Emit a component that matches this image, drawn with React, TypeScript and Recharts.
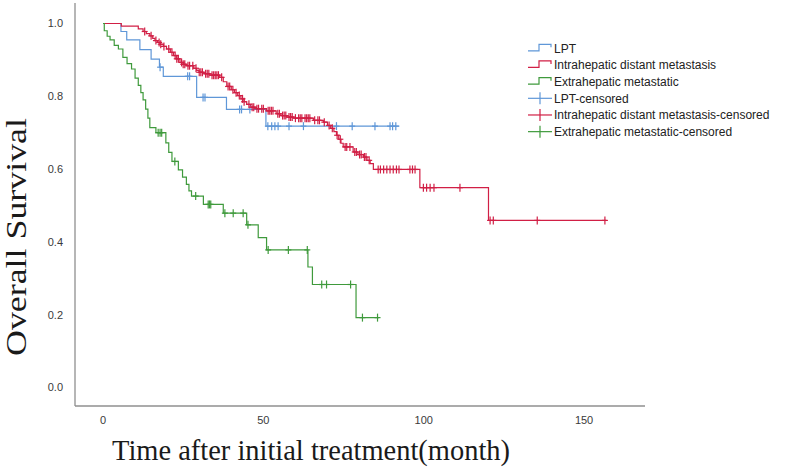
import React from "react";
import { ComposedChart, Line, Scatter, XAxis, YAxis, Legend } from "recharts";

// ---------- data ----------
const seriesNames = ["LPT", "Intrahepatic distant metastasis", "Extrahepatic metastatic"];
const seriesColors = ["#5f97d8", "#d11f45", "#3f9a3c"];

const lptTimes = [0, 5.6, 7.4, 11.5, 15, 17.6, 18.8, 29.2, 38.5, 50.8, 92.4];
const lptSurv = [1, 0.978, 0.955, 0.928, 0.902, 0.88, 0.855, 0.797, 0.764, 0.718, 0.718];
const lptCensored = [17.8, 26.4, 27, 31.2, 31.8, 42.6, 43.2, 45.8, 51.4, 52.6, 53.6, 54.6, 58, 62.5, 72.8, 77.7, 84.8, 89.5, 90.3, 91.3];

const ihTimes = [0, 5.7, 11, 12.5, 13.5, 14.6, 15.5, 16.2, 17, 17.8, 18.8, 19.8, 21, 22, 23, 24, 25, 26, 28.3, 29.2, 30, 31.5, 33.3, 36.4, 37.5, 38.6, 40, 41, 42, 43, 44, 44.8, 46, 47.8, 51, 54, 55.5, 57.3, 59.5, 65.6, 68.7, 70, 71, 72, 72.8, 73.5, 74.2, 74.9, 78, 79.5, 81.2, 82.3, 83.3, 84.3, 98.8, 120.2, 157];
const ihSurv = [1, 0.993, 0.985, 0.978, 0.972, 0.966, 0.959, 0.953, 0.948, 0.943, 0.937, 0.93, 0.921, 0.912, 0.903, 0.893, 0.888, 0.884, 0.877, 0.871, 0.866, 0.862, 0.858, 0.852, 0.84, 0.827, 0.818, 0.81, 0.802, 0.793, 0.785, 0.778, 0.77, 0.766, 0.76, 0.752, 0.747, 0.743, 0.74, 0.734, 0.729, 0.72, 0.712, 0.703, 0.693, 0.682, 0.671, 0.661, 0.647, 0.64, 0.633, 0.624, 0.615, 0.599, 0.549, 0.459, 0.459];
const ihCensored = [13, 15, 16.5, 17.5, 18, 19, 20.5, 21.5, 22.5, 23, 23.5, 24.5, 25, 25.5, 26.5, 27, 28, 29, 30, 30.5, 31, 32, 32.5, 33, 34, 34.5, 35, 35.5, 36, 37, 39, 39.5, 40.5, 41.5, 42.5, 43.5, 44, 45.5, 46.5, 47, 48, 48.5, 49.5, 50, 51.5, 52, 52.5, 53, 54.5, 55, 56, 56.5, 57, 58, 58.5, 59, 60, 61, 61.5, 62, 63, 63.5, 64, 64.5, 66, 67, 67.5, 69, 70.5, 71.5, 73, 74, 75.5, 76, 77, 78.5, 79, 80, 80.5, 81.5, 82, 83, 85.8, 86.5, 87.5, 88.5, 89.5, 90.5, 91.5, 92.3, 95.7, 96.5, 97.3, 99.9, 100.9, 102, 103.2, 111.3, 120.7, 121.7, 135.4, 156.5];

const ehTimes = [0, 0.4, 1.3, 2.2, 3.5, 4.8, 6.2, 7.5, 8.9, 10, 11, 11.8, 12.5, 13.3, 14, 14.6, 16.5, 19.6, 20.5, 21.5, 23.5, 24.8, 26, 26.8, 27.6, 31.3, 37.5, 44.8, 48.4, 51, 63.9, 65.3, 78.9, 86];
const ehSurv = [1, 0.98, 0.965, 0.955, 0.94, 0.93, 0.907, 0.89, 0.875, 0.85, 0.83, 0.81, 0.79, 0.765, 0.74, 0.714, 0.7, 0.672, 0.646, 0.621, 0.598, 0.578, 0.558, 0.54, 0.526, 0.503, 0.479, 0.447, 0.412, 0.378, 0.331, 0.283, 0.192, 0.192];
const ehCensored = [17.2, 17.8, 18.3, 22.4, 28.9, 32.8, 33.2, 33.6, 38, 40.6, 43.7, 45.2, 51.5, 57.8, 63.7, 68.2, 69.7, 77.2, 80.9, 85.6];

const xTicks = [0, 50, 100, 150];
const yTicks = [0, 0.2, 0.4, 0.6, 0.8, 1.0];
const xTitle = "Time after initial treatment(month)";
const yTitle = "Overall Survival";

// ---------- build tables ----------
const toCurve = (times: number[], surv: number[]) => times.map((t, i) => ({ t, s: surv[i] }));
const levelAt = (times: number[], surv: number[], t: number) => {
  let v = surv[0];
  for (let i = 0; i < times.length; i++) if (times[i] <= t) v = surv[i];
  return v;
};
const toCensor = (times: number[], surv: number[], cens: number[]) =>
  cens.map((t) => ({ t, s: levelAt(times, surv, t) }));

const curves = [
  toCurve(lptTimes, lptSurv),
  toCurve(ihTimes, ihSurv),
  toCurve(ehTimes, ehSurv),
];
const censors = [
  toCensor(lptTimes, lptSurv, lptCensored),
  toCensor(ihTimes, ihSurv, ihCensored),
  toCensor(ehTimes, ehSurv, ehCensored),
];

const crossShape = (color: string) => (props: any) => {
  const { cx, cy } = props;
  if (cx == null || cy == null) return <g />;
  return (
    <g stroke={color} strokeWidth={1.2}>
      <line x1={cx} y1={cy - 4} x2={cx} y2={cy + 4} />
      <line x1={cx - 3} y1={cy} x2={cx + 3} y2={cy} />
    </g>
  );
};

const legendItems = [
  { name: seriesNames[0], color: seriesColors[0], kind: "step" },
  { name: seriesNames[1], color: seriesColors[1], kind: "step" },
  { name: seriesNames[2], color: seriesColors[2], kind: "step" },
  { name: seriesNames[0] + "-censored", color: seriesColors[0], kind: "cross" },
  { name: seriesNames[1] + "-censored", color: seriesColors[1], kind: "cross" },
  { name: seriesNames[2] + "-censored", color: seriesColors[2], kind: "cross" },
];

const renderLegend = () => (
  <svg width={262} height={104} style={{ display: "block" }}>
    {legendItems.map((it, i) => {
      const cy = 8.3 + i * 16.67;
      return (
        <g key={it.name}>
          {it.kind === "step" ? (
            <path
              d={`M1,${cy + 2.5} H12 V${cy - 4} H24 V${cy - 1}`}
              fill="none"
              stroke={it.color}
              strokeWidth={1.2}
            />
          ) : (
            <g stroke={it.color} strokeWidth={1.2}>
              <line x1={1} y1={cy} x2={25} y2={cy} />
              <line x1={13} y1={cy - 6} x2={13} y2={cy + 6} />
            </g>
          )}
          <text
            x={27}
            y={cy + 4.3}
            fontSize={12}
            fontFamily="'Liberation Sans', Arial, sans-serif"
            fill="#222"
          >
            {it.name}
          </text>
        </g>
      );
    })}
  </svg>
);

const XTitle = () => (
  <text
    x={311}
    y={460}
    textAnchor="middle"
    fontSize={29}
    fontFamily="'Liberation Serif', 'Times New Roman', serif"
    fill="#1a1a1a"
    textLength={398}
    lengthAdjust="spacingAndGlyphs"
  >
    {xTitle}
  </text>
);

const YTitle = () => (
  <text
    transform="translate(26,237) rotate(-90)"
    x={0}
    y={0}
    textAnchor="middle"
    fontSize={29}
    fontFamily="'Liberation Serif', 'Times New Roman', serif"
    fill="#1a1a1a"
    textLength={238}
    lengthAdjust="spacingAndGlyphs"
  >
    {yTitle}
  </text>
);

const tickStyle = { fontSize: 11, fontFamily: "'Liberation Sans', Arial, sans-serif", fill: "#3a3a3a" };

export default function App() {
  return (
    <div style={{ position: "absolute", left: 0, top: 0, width: 791, height: 471, background: "#fff" }}>
      <ComposedChart width={791} height={471} margin={{ top: 3, right: 146, bottom: 0, left: 0 }}>
        <XAxis
          type="number"
          dataKey="t"
          domain={[-8.73, 169]}
          ticks={xTicks}
          allowDataOverflow
          height={65}
          tickLine={false}
          tickSize={0}
          tickMargin={10}
          stroke="#8f8f8f"
          strokeWidth={1.3}
          tick={tickStyle}
          label={{ value: xTitle, content: () => <XTitle /> }}
        />
        <YAxis
          type="number"
          domain={[-0.0508, 1.0563]}
          ticks={yTicks}
          allowDataOverflow
          width={75}
          tickLine={false}
          tickSize={0}
          tickMargin={12}
          stroke="#8f8f8f"
          strokeWidth={1.3}
          tick={tickStyle}
          tickFormatter={(v: number) => v.toFixed(1)}
          label={{ value: yTitle, content: () => <YTitle /> }}
        />
        {curves.map((c, i) => (
          <Line
            key={"l" + i}
            data={c}
            dataKey="s"
            type="stepAfter"
            stroke={seriesColors[i]}
            strokeWidth={1.2}
            dot={false}
            activeDot={false}
            isAnimationActive={false}
            name={seriesNames[i]}
          />
        ))}
        {censors.map((c, i) => (
          <Scatter
            key={"c" + i}
            data={c}
            dataKey="s"
            shape={crossShape(seriesColors[i])}
            isAnimationActive={false}
            name={seriesNames[i] + "-censored"}
          />
        ))}
        <Legend
          layout="vertical"
          align="center"
          verticalAlign="middle"
          content={renderLegend}
          wrapperStyle={{ left: 527, top: 40, width: 262 }}
        />
      </ComposedChart>
    </div>
  );
}
